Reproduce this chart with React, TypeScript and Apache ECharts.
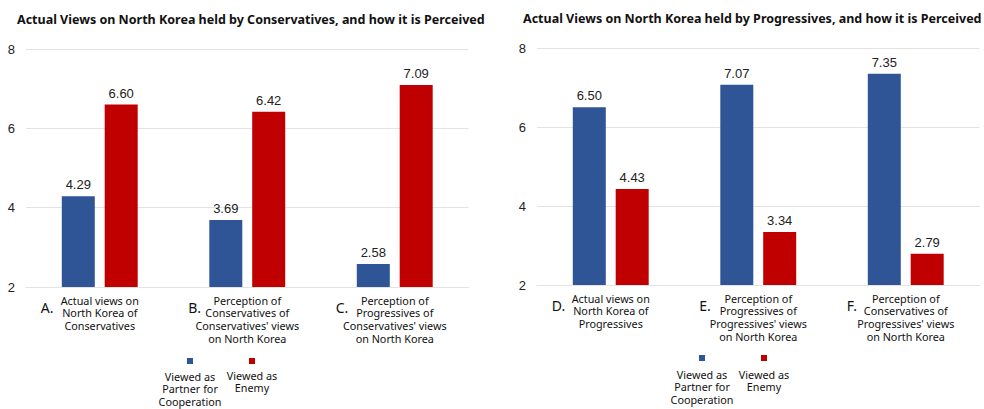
import React, { useEffect, useRef } from "react";
import * as echarts from "echarts";

// Panel titles
const titleLeft = "Actual Views on North Korea held by Conservatives, and how it is Perceived";
const titleRight = "Actual Views on North Korea held by Progressives, and how it is Perceived";

// Category labels and their letter markers
const categoriesLeft = [
  "Actual views on\nNorth Korea of\nConservatives",
  "Perception of\nConservatives of\nConservatives' views\non North Korea",
  "Perception of\nProgressives of\nConservatives' views\non North Korea",
];
const lettersLeft = ["A.", "B.", "C."];
const categoriesRight = [
  "Actual views on\nNorth Korea of\nProgressives",
  "Perception of\nProgressives of\nProgressives' views\non North Korea",
  "Perception of\nConservatives of\nProgressives' views\non North Korea",
];
const lettersRight = ["D.", "E.", "F."];

// Series names and values
const seriesNames = ["Viewed as Partner for Cooperation", "Viewed as Enemy"];
const legendLabels = ["Viewed as\nPartner for\nCooperation", "Viewed as\nEnemy"];
const partnerLeft = [4.29, 3.69, 2.58];
const enemyLeft = [6.6, 6.42, 7.09];
const partnerRight = [6.5, 7.07, 7.35];
const enemyRight = [4.43, 3.34, 2.79];

// Value axis range
const yMin = 2;
const yMax = 8;
const yStep = 2;

const BLUE = "#2F5597";
const RED = "#C00000";
const TEXT_FONT = "'Noto Sans', sans-serif";
const NUM_FONT = "'Liberation Sans', Arial, sans-serif";
const PLOT_WIDTH = 442.5;
const LETTER_SHIFT = 59;

export default function App() {
  const ref = useRef<HTMLDivElement>(null);

  useEffect(() => {
    document.body.style.margin = "0";
    const chart = echarts.init(ref.current!, undefined, { renderer: "svg" });

    const leftGrid = { left: 26, width: PLOT_WIDTH, top: 49, bottom: 122 };
    const rightGrid = { left: 537, width: PLOT_WIDTH, top: 48, bottom: 124 };
    // Letter grids: ticks on the category boundaries (boundaryGap false) so that
    // each letter's left edge sits a fixed distance left of its category centre.
    const band = PLOT_WIDTH / 3;
    const letterGrid = (g: typeof leftGrid) => ({
      ...g,
      left: g.left + band / 2 - LETTER_SHIFT,
      width: band * 2,
    });
    const grids = [leftGrid, rightGrid, letterGrid(leftGrid), letterGrid(rightGrid)];

    const catAxis = (gridIndex: number, data: string[]) => ({
      type: "category",
      gridIndex,
      data,
      axisLine: { show: true, lineStyle: { color: "#E3E3E3" } },
      axisTick: { show: false },
      axisLabel: {
        interval: 0,
        margin: 7,
        fontFamily: TEXT_FONT,
        fontSize: 10.8,
        lineHeight: 12.6,
        color: "#111",
      },
    });

    const letterAxis = (gridIndex: number, data: string[]) => ({
      type: "category",
      gridIndex,
      data,
      boundaryGap: false,
      axisLine: { show: false },
      axisTick: { show: false },
      splitLine: { show: false },
      axisLabel: {
        interval: 0,
        margin: 13,
        align: "left",
        fontFamily: TEXT_FONT,
        fontSize: 14,
        lineHeight: 14,
        color: "#111",
      },
    });

    const valAxis = (gridIndex: number) => ({
      type: "value",
      gridIndex,
      min: yMin,
      max: yMax,
      interval: yStep,
      axisLine: { show: false },
      axisTick: { show: false },
      splitLine: { lineStyle: { color: "#E3E3E3" } },
      axisLabel: {
        margin: 11,
        fontFamily: NUM_FONT,
        fontSize: 13,
        color: "#222",
      },
    });

    const hiddenValAxis = (gridIndex: number) => ({
      type: "value",
      gridIndex,
      show: false,
      min: yMin,
      max: yMax,
    });

    const barSeries = (name: string, color: string, xIdx: number, yIdx: number, data: number[]) => ({
      type: "bar",
      name,
      xAxisIndex: xIdx,
      yAxisIndex: yIdx,
      data,
      barWidth: 33,
      barGap: "30%",
      itemStyle: { color },
      label: {
        show: true,
        position: "top",
        distance: 5,
        fontFamily: NUM_FONT,
        fontSize: 13,
        color: "#222",
        formatter: (p: any) => Number(p.value).toFixed(2),
      },
    });

    const legendAt = (name: string, cx: number, cy: number) => ({
      data: [name],
      left: cx - 3,
      top: cy - 3,
      padding: 0,
      itemWidth: 6,
      itemHeight: 6,
      icon: "rect",
      selectedMode: false,
      formatter: () => "",
      textStyle: { fontSize: 1 },
    });

    const legendText = (text: string, cx: number, top: number) => ({
      type: "text",
      x: cx,
      y: top,
      style: {
        text,
        align: "center",
        verticalAlign: "top",
        fontFamily: TEXT_FONT,
        fontSize: 10.8,
        lineHeight: 12.6,
        fill: "#111",
      },
    });

    const titleStyle = { fontFamily: TEXT_FONT, fontSize: 12.5, fontWeight: "bold", color: "#111" };

    chart.setOption({
      animation: false,
      backgroundColor: "#fff",
      title: [
        { text: titleLeft, left: 17, top: 13, padding: 0, textStyle: titleStyle },
        { text: titleRight, left: 523, top: 12, padding: 0, textStyle: titleStyle },
      ],
      grid: grids,
      xAxis: [
        catAxis(0, categoriesLeft),
        catAxis(1, categoriesRight),
        letterAxis(2, lettersLeft),
        letterAxis(3, lettersRight),
      ],
      yAxis: [valAxis(0), valAxis(1), hiddenValAxis(2), hiddenValAxis(3)],
      legend: [
        legendAt(seriesNames[0], 190, 361),
        legendAt(seriesNames[1], 252, 361),
        legendAt(seriesNames[0], 702, 358),
        legendAt(seriesNames[1], 764, 358),
      ],
      graphic: [
        legendText(legendLabels[0], 190, 370),
        legendText(legendLabels[1], 252, 369),
        legendText(legendLabels[0], 702, 368),
        legendText(legendLabels[1], 764, 368),
      ],
      series: [
        barSeries(seriesNames[0], BLUE, 0, 0, partnerLeft),
        barSeries(seriesNames[1], RED, 0, 0, enemyLeft),
        barSeries(seriesNames[0], BLUE, 1, 1, partnerRight),
        barSeries(seriesNames[1], RED, 1, 1, enemyRight),
      ],
    });

    return () => chart.dispose();
  }, []);

  return (
    <div
      ref={ref}
      style={{ position: "absolute", left: 0, top: 0, width: 984, height: 409 }}
    />
  );
}
